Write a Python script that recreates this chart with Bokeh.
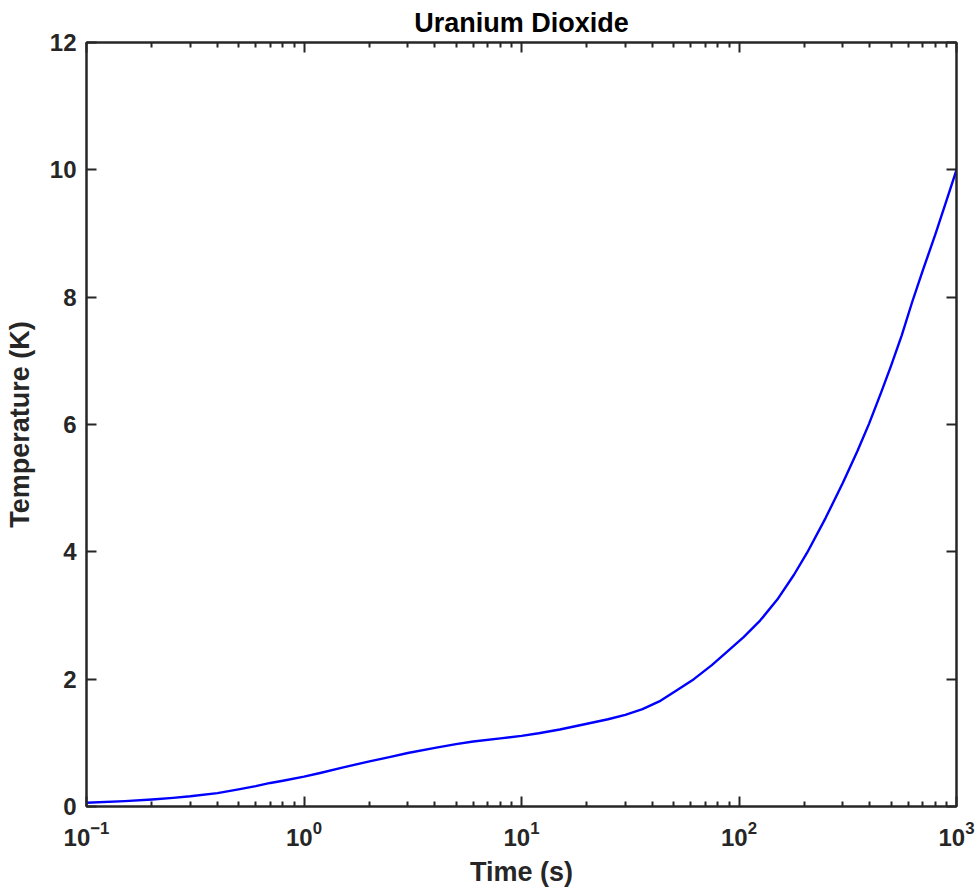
from bokeh.plotting import figure
from bokeh.models import FixedTicker, LogAxis, LinearAxis, CustomJSTickFormatter, Range1d
from bokeh.embed import file_html
from bokeh.resources import INLINE

# Data (time in s, temperature in K)
time_s = [0.1, 0.15, 0.2, 0.25, 0.3, 0.4, 0.5, 0.6, 0.7, 0.8, 1.0, 1.2, 1.5,
          2.0, 2.5, 3.0, 4.0, 5.0, 6.0, 8.0, 10.0, 12.0, 15.0, 20.0, 25.0,
          30.0, 36.0, 43.0, 52.0, 62.0, 75.0, 88.0, 105.0, 125.0, 150.0,
          179.0, 206.0, 250.0, 300.0, 350.0, 396.0, 450.0, 500.0, 560.0,
          625.0, 700.0, 800.0, 900.0, 1000.0]
temp_k = [0.06, 0.085, 0.11, 0.135, 0.16, 0.21, 0.27, 0.32, 0.37, 0.405, 0.47,
          0.53, 0.61, 0.71, 0.78, 0.84, 0.92, 0.98, 1.02, 1.07, 1.11, 1.15,
          1.21, 1.30, 1.37, 1.44, 1.53, 1.65, 1.83, 2.0, 2.22, 2.43, 2.66,
          2.92, 3.25, 3.64, 3.99, 4.53, 5.08, 5.58, 6.01, 6.50, 6.92, 7.40,
          7.92, 8.42, 8.99, 9.52, 10.0]

x_major = [0.1, 1, 10, 100, 1000]
x_minor = [m * d for d in [0.1, 1, 10, 100] for m in range(2, 10)]
y_major = [0, 2, 4, 6, 8, 10, 12]

AX = "#262626"
FONT = "Liberation Sans"

p = figure(width=979, height=890, x_axis_type="log",
           x_range=Range1d(0.1, 1000), y_range=Range1d(0, 12),
           output_backend="svg", toolbar_location=None,
           title="Uranium Dioxide")
p.min_border_left = 86
p.min_border_right = 23
p.min_border_top = 42
p.min_border_bottom = 84
p.background_fill_color = "white"
p.border_fill_color = "white"
p.outline_line_color = AX
p.outline_line_width = 2
p.grid.visible = False

p.title.align = "center"
p.title.text_font = FONT
p.title.text_font_size = "27px"
p.title.text_font_style = "bold"
p.title.text_color = "#000000"

p.line(time_s, temp_k, line_color="#0000ff", line_width=2.4,
       line_join="round", line_cap="round")

empty = CustomJSTickFormatter(code="return ''")

def style(ax, labels=True):
    ax.axis_line_color = AX
    ax.axis_line_width = 2
    ax.major_tick_line_color = AX
    ax.major_tick_line_width = 2
    ax.minor_tick_line_color = AX
    ax.minor_tick_line_width = 2
    ax.major_tick_in = 10
    ax.major_tick_out = 0
    ax.minor_tick_in = 5
    ax.minor_tick_out = 0
    ax.major_label_text_font = FONT
    ax.major_label_text_font_size = "24px"
    ax.major_label_text_font_style = "bold"
    ax.major_label_text_color = AX
    ax.axis_label_text_font = FONT
    ax.axis_label_text_font_size = "27px"
    ax.axis_label_text_font_style = "bold"
    ax.axis_label_text_color = AX
    if not labels:
        ax.formatter = empty
        ax.major_label_standoff = 0

xt = FixedTicker(ticks=x_major, minor_ticks=x_minor)
yt = FixedTicker(ticks=y_major, minor_ticks=[])

xa = p.xaxis[0]
xa.ticker = xt
style(xa)
xa.axis_label = "Time (s)"
xa.major_label_standoff = 14
xa.axis_label_standoff = 8

ya = p.yaxis[0]
ya.ticker = yt
style(ya)
ya.axis_label = "Temperature (K)"
ya.major_label_standoff = 10
ya.axis_label_standoff = 12

top = LogAxis(ticker=FixedTicker(ticks=x_major, minor_ticks=x_minor))
style(top, labels=False)
p.add_layout(top, "above")

right = LinearAxis(ticker=FixedTicker(ticks=y_major, minor_ticks=[]))
style(right, labels=False)
p.add_layout(right, "right")

open("out.html", "w").write(file_html(p, INLINE))
